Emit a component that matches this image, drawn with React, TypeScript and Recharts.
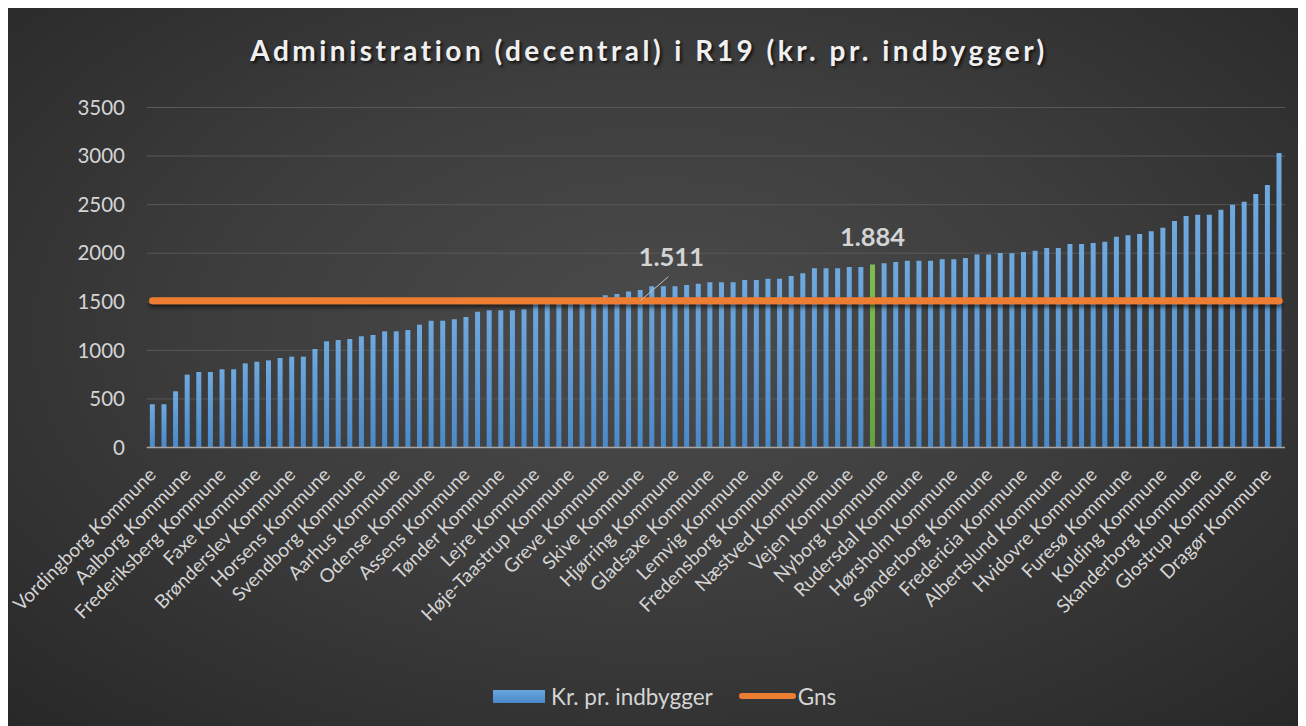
import React from "react";
import { ComposedChart, Bar, Line, XAxis, YAxis, CartesianGrid, Legend, Cell } from "recharts";

// 98 municipalities, sorted by value; only every third name is legible in the reference
const categories: string[] = [
  "Vordingborg Kommune", "", "", "Aalborg Kommune", "", "", "Frederiksberg Kommune", "", "",
  "Faxe Kommune", "", "", "Brønderslev Kommune", "", "", "Horsens Kommune", "", "",
  "Svendborg Kommune", "", "", "Aarhus Kommune", "", "", "Odense Kommune", "", "",
  "Assens Kommune", "", "", "Tønder Kommune", "", "", "Lejre Kommune", "", "",
  "Høje-Taastrup Kommune", "", "", "Greve Kommune", "", "", "Skive Kommune", "", "",
  "Hjørring Kommune", "", "", "Gladsaxe Kommune", "", "", "Lemvig Kommune", "", "",
  "Fredensborg Kommune", "", "", "Næstved Kommune", "", "", "Vejen Kommune", "", "",
  "Nyborg Kommune", "", "", "Rudersdal Kommune", "", "", "Hørsholm Kommune", "", "",
  "Sønderborg Kommune", "", "", "Fredericia Kommune", "", "", "Albertslund Kommune", "", "",
  "Hvidovre Kommune", "", "", "Furesø Kommune", "", "", "Kolding Kommune", "", "",
  "Skanderborg Kommune", "", "", "Glostrup Kommune", "", "", "Dragør Kommune", "",
];

const krPrIndbygger: number[] = [
  445, 445, 579, 750, 777, 777, 805, 805, 866, 883,
  897, 921, 935, 935, 1014, 1093, 1106, 1117, 1145, 1158,
  1196, 1196, 1209, 1264, 1305, 1305, 1320, 1344, 1398, 1412,
  1412, 1412, 1422, 1485, 1495, 1505, 1515, 1525, 1540, 1567,
  1581, 1607, 1621, 1659, 1659, 1659, 1673, 1686, 1700, 1700,
  1700, 1725, 1725, 1738, 1738, 1765, 1793, 1844, 1844, 1844,
  1858, 1858, 1884, 1896, 1910, 1923, 1923, 1923, 1937, 1937,
  1950, 1988, 1988, 2002, 1999, 2012, 2026, 2054, 2054, 2095,
  2095, 2105, 2118, 2170, 2184, 2198, 2226, 2263, 2332, 2383,
  2396, 2396, 2448, 2499, 2530, 2610, 2702, 3032,
];

const gnsValue = 1511;
const gns: number[] = categories.map(() => gnsValue);

const yTicks: number[] = [0, 500, 1000, 1500, 2000, 2500, 3000, 3500];
const highlightIndex = 62;
const gnsLabelIndex = 42;

const seriesNames = { bar: "Kr. pr. indbygger", line: "Gns" };
const titleText = "Administration (decentral) i R19 (kr. pr. indbygger)";

const data = categories.map((name, i) => ({ name, value: krPrIndbygger[i], gns: gns[i] }));

const fmt = (v: number) => {
  const s = Math.round(v).toString();
  return s.length > 3 ? s.slice(0, s.length - 3) + "." + s.slice(s.length - 3) : s;
};

const FONT = "Lato, 'Noto Sans', sans-serif";
const TEXT = "#d4d4d4";

const XTick = (props: any) => {
  const { x, y, payload } = props;
  let v = payload?.value;
  if (typeof v === "number") v = categories[v];
  return (
    <g transform={`translate(${x + 4.7},${y + 28.5})`}>
      <text transform="rotate(-45)" textAnchor="end" fill={TEXT} fontSize={19} fontFamily={FONT}>
        {v}
      </text>
    </g>
  );
};

const barLabel = (props: any) => {
  const { x, y, width, index, value } = props;
  if (index !== highlightIndex) return <g />;
  return (
    <text x={x + width / 2} y={y - 18.5} textAnchor="middle" fill={TEXT} fontSize={25.5} fontWeight={700} fontFamily={FONT}>
      {fmt(value)}
    </text>
  );
};

const lineLabel = (props: any) => {
  const { x, y, index, value } = props;
  if (index !== gnsLabelIndex) return <g />;
  return (
    <g>
      <line x1={x} y1={y} x2={x + 28} y2={y - 24} stroke="#bfbfbf" strokeWidth={1} />
      <text x={x + 31} y={y - 35} textAnchor="middle" fill={TEXT} fontSize={25.5} fontWeight={700} fontFamily={FONT}>
        {fmt(value)}
      </text>
    </g>
  );
};

const LegendContent = () => (
  <div style={{ display: "flex", alignItems: "center", height: 60, paddingLeft: 485, fontFamily: FONT, fontSize: 22.5, color: TEXT }}>
    <div style={{ width: 52, height: 13, background: "linear-gradient(#6aa6de, #4a89c9)" }} />
    <span style={{ marginLeft: 6 }}>{seriesNames.bar}</span>
    <div style={{ width: 57, height: 6, borderRadius: 3, background: "#ED7D31", marginLeft: 26 }} />
    <span style={{ marginLeft: 2 }}>{seriesNames.line}</span>
  </div>
);

export default function App() {
  return (
    <div
      style={{
        position: "relative",
        width: 1298,
        height: 718,
        background: "radial-gradient(ellipse 75% 80% at 50% 45%, #4b4b4b 0%, #3d3d3d 45%, #262626 100%)",
      }}
    >
      <div
        style={{
          position: "absolute",
          top: 26,
          left: 0,
          width: 1282,
          textAlign: "center",
          fontFamily: FONT,
          fontWeight: 700,
          fontSize: 28,
          lineHeight: "32px",
          letterSpacing: 3.5,
          color: "#f0f0f0",
          textShadow: "2px 2px 3px rgba(0,0,0,0.7)",
        }}
      >
        {titleText}
      </div>
      <ComposedChart
        width={1298}
        height={718}
        data={data}
        margin={{ top: 99.5, right: 21, bottom: 0, left: 0 }}
        barCategoryGap="27%"
      >
        <defs>
          <linearGradient id="barBlue" x1="0" y1="0" x2="0" y2="1">
            <stop offset="0%" stopColor="#6ea9df" />
            <stop offset="100%" stopColor="#4a89c9" />
          </linearGradient>
          <linearGradient id="barGreen" x1="0" y1="0" x2="0" y2="1">
            <stop offset="0%" stopColor="#7fbd54" />
            <stop offset="100%" stopColor="#63a23c" />
          </linearGradient>
          <filter id="lineShadow" filterUnits="userSpaceOnUse" x="0" y="0" width="1298" height="718">
            <feDropShadow dx="0" dy="3" stdDeviation="2" floodColor="#000" floodOpacity="0.6" />
          </filter>
        </defs>
        <CartesianGrid vertical={false} stroke="#585858" strokeWidth={1} />
        <XAxis
          dataKey="name"
          interval={2}
          tick={<XTick />}
          tickLine={false}
          tickSize={0}
          tickMargin={0}
          height={218.5}
          axisLine={{ stroke: "#a6a6a6", strokeWidth: 1.5 }}
        />
        <YAxis
          domain={[0, 3500]}
          ticks={yTicks}
          width={138.7}
          axisLine={false}
          tickLine={false}
          tickSize={0}
          tickMargin={21.7}
          tick={{ fill: TEXT, fontSize: 20.5, fontFamily: FONT }}
        />
        <Bar dataKey="value" name={seriesNames.bar} isAnimationActive={false} label={barLabel}>
          {data.map((d, i) => (
            <Cell key={i} fill={i === highlightIndex ? "url(#barGreen)" : "url(#barBlue)"} />
          ))}
        </Bar>
        <Line
          dataKey="gns"
          name={seriesNames.line}
          type="linear"
          stroke="#ED7D31"
          strokeWidth={7}
          strokeLinecap="round"
          dot={false}
          activeDot={false}
          filter="url(#lineShadow)"
          isAnimationActive={false}
          label={lineLabel}
        />
        <Legend verticalAlign="bottom" height={60} content={<LegendContent />} />
      </ComposedChart>
    </div>
  );
}
